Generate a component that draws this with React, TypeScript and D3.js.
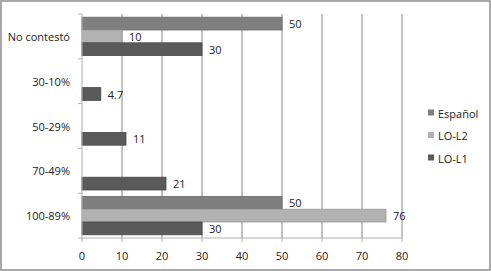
import { useEffect, useRef } from 'react';
import * as d3 from 'd3';

const categories = ['No contestó', '30-10%', '50-29%', '70-49%', '100-89%'];
const seriesNames = ['Español', 'LO-L2', 'LO-L1'];
const espanol = [50, null, null, null, 50];
const loL2 = [10, null, null, null, 76];
const loL1 = [30, 4.7, 11, 21, 30];
const xTicks = [0, 10, 20, 30, 40, 50, 60, 70, 80];
const colors = ['#7f7f7f', '#b2b2b2', '#5a5a5a'];
const strokes = ['#6a6a6a', '#9a9a9a', '#4a4a4a'];

export default function App() {
  const svgRef = useRef<SVGSVGElement>(null);

  useEffect(() => {
    document.body.style.margin = '0';
    if (!svgRef.current) return;
    const width = 491;
    const height = 271;
    const svg = d3.select(svgRef.current);
    svg.selectAll('*').remove();

    const font = "'Open Sans', 'Noto Sans', sans-serif";

    // outer frame
    svg.append('rect')
      .attr('x', 1).attr('y', 1)
      .attr('width', width - 2).attr('height', height - 2)
      .attr('fill', '#fff').attr('stroke', '#8c8c8c').attr('stroke-width', 1.5);

    const left = 82;
    const right = 402;
    const top = 14;
    const bottom = 238;

    const x = d3.scaleLinear().domain([0, 80]).range([left, right]);
    const y = d3.scaleBand().domain(categories).range([top, bottom]);
    const inner = d3.scaleBand().domain(seriesNames).range([0, y.bandwidth()]).paddingOuter(0.25);

    // gridlines
    xTicks.slice(1).forEach(t => {
      svg.append('line')
        .attr('x1', x(t)).attr('x2', x(t))
        .attr('y1', top).attr('y2', bottom)
        .attr('stroke', '#868686').attr('stroke-width', 1);
    });

    // bars
    const series = [espanol, loL2, loL1];
    series.forEach((vals, si) => {
      vals.forEach((v, ci) => {
        if (v === null) return;
        const by = (y(categories[ci]) || 0) + (inner(seriesNames[si]) || 0);
        svg.append('rect')
          .attr('x', x(0)).attr('y', by)
          .attr('width', x(v) - x(0)).attr('height', inner.bandwidth())
          .attr('fill', colors[si]).attr('stroke', strokes[si]).attr('stroke-width', 0.8);
        svg.append('text')
          .attr('x', x(v) + 7).attr('y', by + inner.bandwidth() / 2)
          .attr('dominant-baseline', 'central')
          .attr('font-family', font).attr('font-size', 11).attr('fill', '#222')
          .text(String(v));
      });
    });

    // left axis
    svg.append('line')
      .attr('x1', left).attr('x2', left).attr('y1', top).attr('y2', bottom)
      .attr('stroke', '#b0b0b0');
    const yTicks = [top, ...categories.map(c => (y(c) || 0) + y.bandwidth())];
    yTicks.forEach(t => {
      svg.append('line')
        .attr('x1', left - 4).attr('x2', left).attr('y1', t).attr('y2', t)
        .attr('stroke', '#b0b0b0');
    });
    categories.forEach(c => {
      svg.append('text')
        .attr('x', 70).attr('y', (y(c) || 0) + y.bandwidth() / 2)
        .attr('text-anchor', 'end').attr('dominant-baseline', 'central')
        .attr('font-family', font).attr('font-size', 11).attr('fill', '#222')
        .text(c);
    });

    // bottom axis
    svg.append('line')
      .attr('x1', left).attr('x2', right).attr('y1', bottom).attr('y2', bottom)
      .attr('stroke', '#b0b0b0');
    xTicks.forEach(t => {
      svg.append('line')
        .attr('x1', x(t)).attr('x2', x(t)).attr('y1', bottom).attr('y2', bottom + 4)
        .attr('stroke', '#b0b0b0');
      svg.append('text')
        .attr('x', x(t)).attr('y', 255)
        .attr('text-anchor', 'middle').attr('dominant-baseline', 'central')
        .attr('font-family', font).attr('font-size', 11).attr('fill', '#222')
        .text(String(t));
    });

    // legend
    seriesNames.forEach((s, i) => {
      const ly = 113 + i * 22.5;
      svg.append('rect')
        .attr('x', 428).attr('y', ly - 3.5).attr('width', 6).attr('height', 6)
        .attr('fill', colors[i]);
      svg.append('text')
        .attr('x', 438).attr('y', ly)
        .attr('dominant-baseline', 'central')
        .attr('font-family', font).attr('font-size', 11).attr('fill', '#222')
        .text(s);
    });
  }, []);

  return <svg ref={svgRef} width={491} height={271} style={{ display: 'block' }} />;
}
